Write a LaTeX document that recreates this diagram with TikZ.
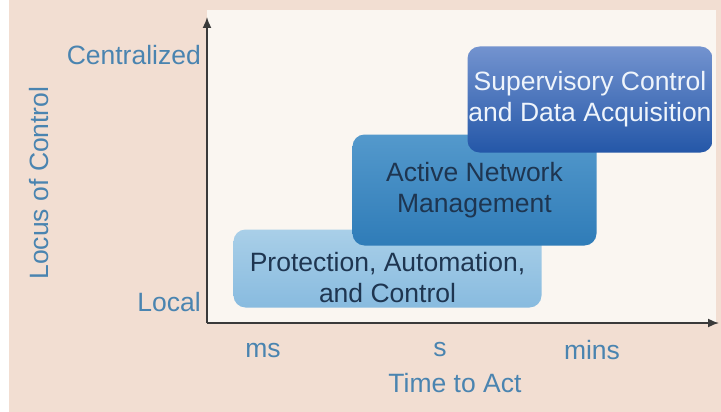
\documentclass[tikz,border=0pt]{standalone}
\usepackage{fontspec}
\setmainfont{Liberation Sans}
\usetikzlibrary{arrows.meta,shadings}
\definecolor{peach}{HTML}{F2DED2}
\definecolor{panel}{HTML}{FAF6F1}
\definecolor{axlbl}{HTML}{4A84B0}
\definecolor{axis}{HTML}{3A3A3A}
\definecolor{darktxt}{HTML}{1E3550}
\definecolor{pactop}{HTML}{A9CFE8}
\definecolor{pacbot}{HTML}{88BBDF}
\definecolor{anmtop}{HTML}{5499CC}
\definecolor{anmbot}{HTML}{2F7CB8}
\definecolor{scatop}{HTML}{7393CF}
\definecolor{scabot}{HTML}{2457A8}
\definecolor{scatxt}{HTML}{EEF4FB}
\tikzset{
  big/.style={font=\fontsize{26.5}{31}\selectfont},
  lbl/.style={big, text=axlbl},
  boxstyle/.style={rounded corners=12pt, inner sep=0pt, draw=none},
  boxtext/.style={big, align=center},
  axisline/.style={draw=axis, line width=1.6pt, -{Latex[length=11pt,width=9pt]}},
}
\begin{document}
\begin{tikzpicture}[x=1pt,y=-1pt]
\useasboundingbox (0,0) rectangle (721,412);
\fill[white] (0,0) rectangle (721,412);
\fill[peach] (9,0) rectangle (721,412);
\fill[panel] (207,10) rectangle (716,323);

\node[boxstyle, top color=pactop, bottom color=pacbot,
  minimum width=308pt, minimum height=78pt,
  label={[boxtext, text=darktxt, yshift=-9pt, name=pact]center:Protection, Automation,\\and Control}]
  (pac) at (387.5,268.5) {};
\node[boxstyle, top color=anmtop, bottom color=anmbot,
  minimum width=244pt, minimum height=111pt,
  label={[boxtext, text=darktxt, name=anmt]center:Active Network\\Management}]
  (anm) at (474.5,190) {};
\node[boxstyle, top color=scatop, bottom color=scabot,
  minimum width=245pt, minimum height=106pt,
  label={[boxtext, text=scatxt, name=scat]center:Supervisory Control\\and Data Acquisition}]
  (sca) at (590,99.5) {};

\coordinate (origin) at (207,323);
\coordinate (ytip) at (207,17);
\coordinate (xtip) at (719,323);
\draw[axisline] (origin) -- (ytip);
\draw[axisline] (origin) -- (xtip);

\node[lbl, anchor=east, inner sep=0pt] (cent) at (201,55) {Centralized};
\node[lbl, anchor=east, inner sep=0pt] (loc) at (201,302) {Local};
\node[lbl, rotate=90, inner sep=0pt] (locus) at (39,183) {Locus of Control};
\node[lbl, inner sep=0pt] (ms) at (263,350) {ms};
\node[lbl, inner sep=0pt] (s) at (440,350) {s};
\node[lbl, inner sep=0pt] (mins) at (592,350) {mins};
\node[lbl, inner sep=0pt] (tta) at (455,383) {Time to Act};
\end{tikzpicture}
\end{document}
